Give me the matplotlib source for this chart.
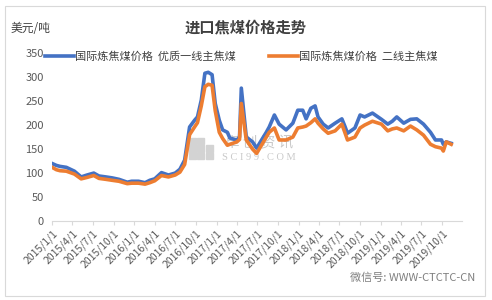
import matplotlib

matplotlib.use("Agg")
import matplotlib.pyplot as plt
import pandas as pd
from matplotlib.patches import Rectangle

plt.rcParams["font.family"] = ["Noto Sans CJK SC", "DejaVu Sans"]

# 进口焦煤价格 (美元/吨)
dates = [
    "2015-01-01", "2015-01-20", "2015-02-05", "2015-03-05", "2015-04-10", "2015-05-10",
    "2015-06-05", "2015-07-05", "2015-07-28", "2015-08-28", "2015-09-25", "2015-10-25",
    "2015-12-01", "2015-12-20", "2016-01-20", "2016-02-18", "2016-03-10", "2016-04-01",
    "2016-05-01", "2016-06-01", "2016-07-01", "2016-07-22", "2016-08-12", "2016-09-03",
    "2016-09-25", "2016-10-08", "2016-10-25", "2016-11-10", "2016-11-25", "2016-12-12",
    "2016-12-26", "2017-01-13", "2017-01-28", "2017-02-18", "2017-03-01", "2017-04-01",
    "2017-04-13", "2017-04-21", "2017-05-13", "2017-06-10", "2017-06-28", "2017-08-10",
    "2017-08-23", "2017-09-15", "2017-10-06", "2017-11-06", "2017-12-06", "2017-12-28",
    "2018-01-19", "2018-02-03", "2018-02-24", "2018-03-15", "2018-03-28", "2018-04-20",
    "2018-05-12", "2018-06-12", "2018-07-12", "2018-07-25", "2018-08-06", "2018-09-08",
    "2018-10-01", "2018-10-21", "2018-11-25", "2019-01-04", "2019-02-01", "2019-02-21",
    "2019-03-13", "2019-04-13", "2019-05-13", "2019-06-10", "2019-07-10", "2019-08-10",
    "2019-09-01", "2019-09-28", "2019-10-06", "2019-10-19", "2019-11-10",
]
premium = [
    120, 116, 114, 112, 104, 92, 96, 100, 94, 92, 90, 87,
    81, 83, 83, 80, 85, 88, 101, 96, 100, 108, 127, 196,
    210, 217, 252, 308, 310, 305, 245, 210, 190, 185, 173, 169,
    175, 277, 175, 165, 152, 185, 196, 221, 202, 190, 204, 231,
    231, 213, 235, 240, 217, 202, 194, 204, 213, 198, 183, 194,
    221, 217, 225, 212, 202, 208, 217, 204, 212, 213, 202, 185,
    169, 169, 160, 165, 162,
]
second = [
    112, 107, 105, 104, 98, 88, 91, 95, 89, 87, 85, 83,
    78, 79, 79, 77, 80, 84, 95, 92, 96, 102, 118, 180,
    196, 205, 240, 280, 285, 283, 230, 185, 172, 158, 160, 165,
    170, 245, 169, 150, 141, 175, 185, 194, 169, 169, 175, 194,
    196, 198, 205, 213, 204, 192, 183, 188, 202, 185, 169, 175,
    194, 200, 208, 202, 188, 192, 194, 188, 198, 190, 179, 160,
    155, 152, 146, 165, 160,
]
tick_dates = pd.date_range("2015-01-01", "2019-10-01", freq="QS")
tick_labels = [f"{d.year}/{d.month}/1" for d in tick_dates]

x = pd.to_datetime(dates)

fig = plt.figure(figsize=(4.92, 3.0), dpi=100)
ax = fig.add_axes([0.106, 0.263, 0.833, 0.56])

# watermark behind the lines
ax.text(0.527, 0.523, "卓 创 资 讯", transform=fig.transFigure, ha="center", va="center",
        fontsize=10.5, color="#c9c9c9", zorder=0)
ax.text(0.527, 0.476, "S C I 9 9 . C O M", transform=fig.transFigure, ha="center",
        va="center", fontsize=7.5, family="Liberation Serif", color="#c9c9c9", zorder=0)
for i in range(3):
    for j in range(3):
        if (i, j) == (2, 2):
            continue
        ax.add_patch(Rectangle((0.384 + i * 0.017, 0.47 + j * 0.025), 0.014, 0.021,
                               transform=fig.transFigure, color="#d3d3d3", zorder=0,
                               clip_on=False))

ax.plot(x, premium, color="#4472C4", linewidth=2.6, label="国际炼焦煤价格  优质一线主焦煤", zorder=3)
ax.plot(x, second, color="#ED7D31", linewidth=2.6, label="国际炼焦煤价格  二线主焦煤", zorder=4)

ax.set_ylim(0, 350)
ax.set_yticks(range(0, 351, 50))
ax.set_xlim(pd.Timestamp("2015-01-01"), pd.Timestamp("2019-12-28"))
ax.set_xticks(tick_dates)
ax.set_xticklabels(tick_labels, rotation=45, ha="right", rotation_mode="anchor")
ax.tick_params(axis="x", labelsize=7.5, colors="#595959", length=3, color="#d9d9d9", pad=2)
ax.tick_params(axis="y", labelsize=8, colors="#595959", length=0, pad=6)
for side in ["top", "right", "left"]:
    ax.spines[side].set_visible(False)
ax.spines["bottom"].set_color("#d9d9d9")

fig.text(0.5, 0.91, "进口焦煤价格走势", ha="center", va="center",
         fontsize=11, fontweight="bold", color="#404040")
fig.text(0.022, 0.905, "美元/吨", ha="left", va="center", fontsize=8.5, color="#404040")

fig.legend(loc="center", bbox_to_anchor=(0.49, 0.81), ncol=2, frameon=False,
           fontsize=8, handlelength=2.6, handletextpad=0.1, columnspacing=3,
           labelcolor="#404040")

fig.text(0.965, 0.073, "微信号: WWW-CTCTC-CN", ha="right", va="center",
         fontsize=8, color="#7f7f7f")

fig.patches.append(Rectangle((0.01, 0.015), 0.975, 0.965, transform=fig.transFigure,
                             fill=False, edgecolor="#d9d9d9", linewidth=0.8))

fig.savefig("out.png", dpi=100)
